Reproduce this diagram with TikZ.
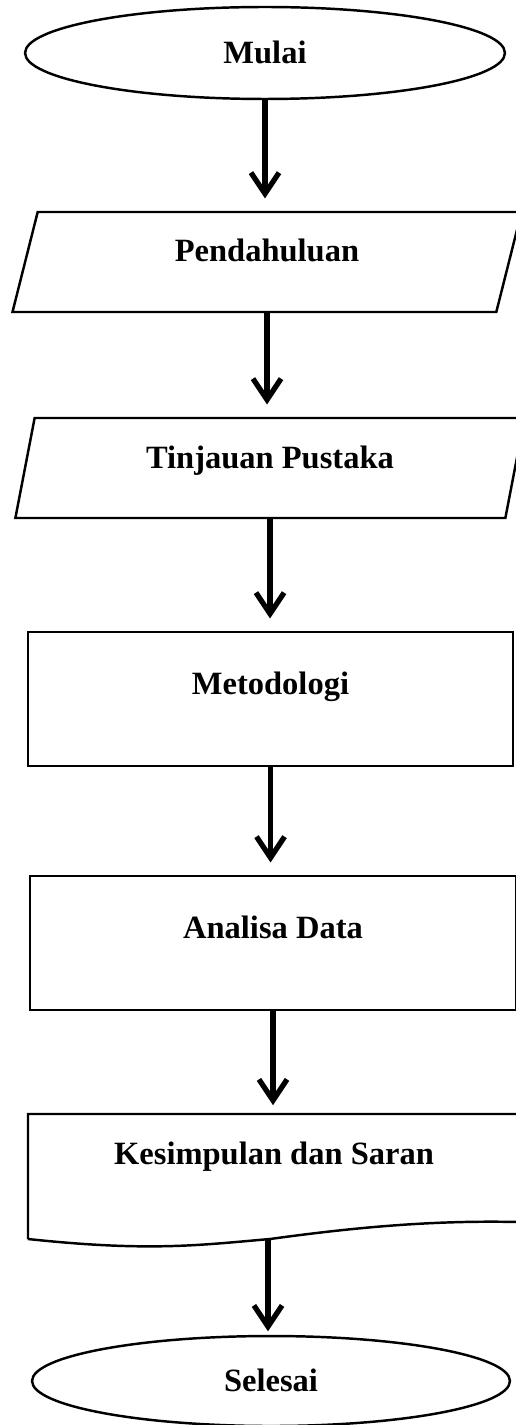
\documentclass[tikz,border=0pt]{standalone}
\usepackage{fontspec}
\setmainfont{Liberation Serif}
\usepackage{tikz}
\usetikzlibrary{shapes.geometric, arrows.meta}

\begin{document}
\begin{tikzpicture}[x=0.02cm, y=-0.02cm,
        every node/.style={font=\fontsize{18.5}{20}\selectfont\bfseries},
        term/.style={shape=ellipse, draw, line width=1.4pt, inner sep=0pt, text height=12pt, text depth=0pt},
        io/.style={shape=trapezium, draw, line width=1.4pt, trapezium left angle=76.5, trapezium right angle=103.5, trapezium stretches=true, inner sep=0pt, text height=12pt, text depth=12pt},
        proc/.style={shape=rectangle, draw, line width=1.4pt, inner sep=0pt, text height=10pt, text depth=15pt},
        flow/.style={line width=3pt, -{Straight Barb[length=12pt, width=16pt]}, shorten >=7pt}]
        \useasboundingbox (0, 0) rectangle (515, 1425);
        % Paths, nodes and wires:
        \node[term, minimum width=9.6cm, minimum height=1.84cm](N1) at (265, 53){Mulai};
        \node[io, minimum width=10.2cm, minimum height=2cm](N2) at (267, 262){Pendahuluan};
        \node[io, minimum width=10.2cm, minimum height=2cm](N3) at (270, 468){Tinjauan Pustaka};
        \node[proc, minimum width=9.7cm, minimum height=2.68cm](N4) at (270.5, 699){Metodologi};
        \node[proc, minimum width=9.72cm, minimum height=2.68cm](N5) at (273, 943){Analisa Data};
        \node[anchor=base](N6) at (274, 1164){Kesimpulan dan Saran};
        \draw[line width=1.4pt] (28, 1239) -- (28, 1114) -- (518, 1114) -- (518, 1222)
            .. controls (430, 1220) and (350, 1228) .. (270, 1239)
            .. controls (200, 1245) and (150, 1252) .. (28, 1239);
        \coordinate (N6n) at (273, 1114);
        \coordinate (N6w) at (268, 1240);
        \node[term, minimum width=9.56cm, minimum height=1.8cm](N7) at (271, 1381){Selesai};
        \draw[flow] (N1.south) -- (N1.south |- N2.north);
        \draw[flow] (N2.south) -- (N2.south |- N3.north);
        \draw[flow] (N3.south) -- (N3.south |- N4.north);
        \draw[flow] (N4.south) -- (N4.south |- N5.north);
        \draw[flow, shorten >=5pt] (N5.south) -- (N6n);
        \draw[flow, shorten >=2pt] (N6w) -- (N6w |- N7.north);
    \end{tikzpicture}
\end{document}
